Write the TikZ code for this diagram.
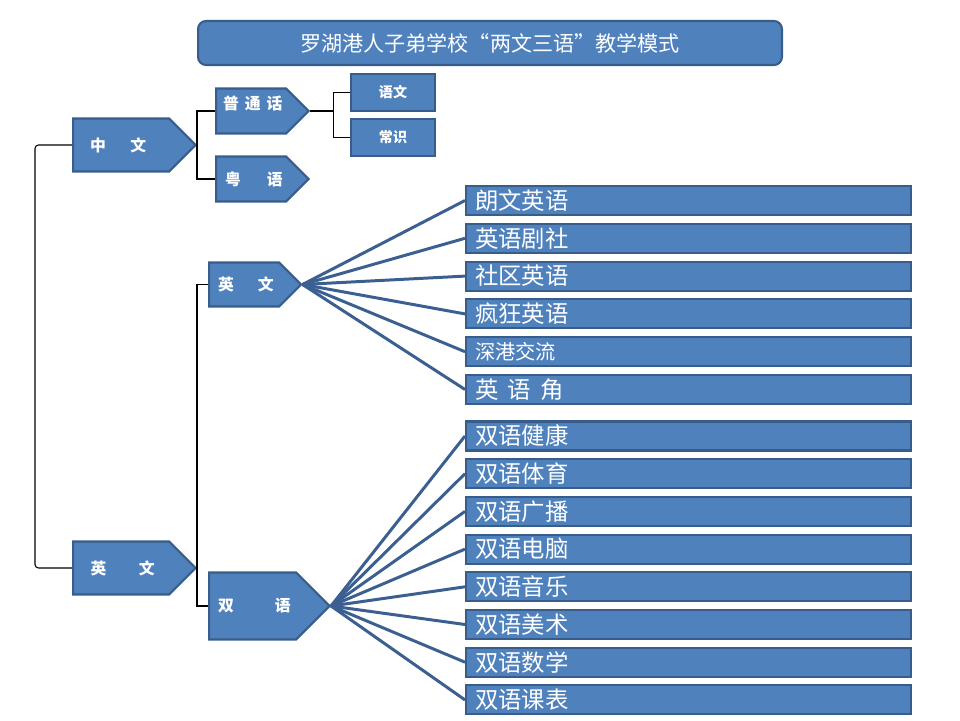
\documentclass[tikz,border=0pt]{standalone}
\usepackage{fontspec}
\setmainfont{Noto Sans CJK SC}
\usetikzlibrary{shapes.symbols}
\definecolor{boxblue}{HTML}{4F81BD}
\definecolor{boxedge}{HTML}{385D8A}
\definecolor{spokeblue}{HTML}{3C5F91}
\tikzset{
  tag/.style 2 args={signal, signal to=east, signal pointer angle=90,
    fill=boxblue, draw=boxedge, line width=1.2pt, text=white,
    font=\bfseries\fontsize{9}{9}\selectfont, inner xsep=0pt, inner ysep=0pt,
    text width=#1, minimum height=#2, align=left, anchor=west},
  subject/.style={rectangle, fill=boxblue, draw=boxedge, line width=1.2pt,
    text=white, font=\bfseries\fontsize{8}{8}\selectfont,
    minimum width=16.8mm, minimum height=7.4mm},
  bar/.style={rectangle, fill=boxblue, draw=boxedge, line width=1.2pt,
    text=white, font=\fontsize{13.3}{14}\selectfont, inner xsep=1.8mm,
    inner ysep=0pt, text width=85.4mm, minimum height=5.8mm, align=left,
    anchor=west},
  spoke/.style={spokeblue, line width=1.7pt},
  bracket/.style={black, line width=0.6pt}
}
\begin{document}
\begin{tikzpicture}[x=0.02cm, y=-0.02cm]
\useasboundingbox (0,0) rectangle (960,720);
% title
\node[rectangle, rounded corners=1.6mm, fill=boxblue, draw=boxedge, line width=1.2pt,
  text=white, font=\fontsize{12}{12}\selectfont, minimum width=116.8mm,
  minimum height=8.8mm] (title) at (490,43) {罗湖港人子弟学校“两文三语”教学模式};
% left column
\node[tag={19.2mm}{10.6mm}] (zhong) at (72,145) {\hspace*{3.4mm}中\hspace{4.9mm}文};
\node[tag={19.2mm}{10.6mm}] (yingL) at (72,568) {\hspace*{3.5mm}英\hspace{6.5mm}文};
% chinese branch
\node[tag={14mm}{9mm}, text height=2.8mm, text depth=3.6mm] (putong) at (215,111)
  {\hspace*{1.4mm}普\hspace{1.2mm}通\hspace{1.2mm}话};
\node[tag={14mm}{9mm}] (yue) at (215,179) {\hspace*{1.8mm}粤\hspace{5.2mm}语};
\node[subject] (yuwen) at (393,92.5) {语文};
\node[subject] (changshi) at (393,137.5) {常识};
% english branch
\node[tag={14mm}{8.8mm}] (yingU) at (208,284.5) {\hspace*{1.8mm}英\hspace{4.8mm}文};
\node[tag={17.4mm}{13.4mm}] (shuang) at (208,606) {\hspace*{1.8mm}双\hspace{8.2mm}语};
% activity bars
\foreach \t [count=\i] in {朗文英语,英语剧社,社区英语,疯狂英语,
    {\fontsize{11.5}{12}\selectfont 深港交流},英\hspace{0.4em}语\hspace{0.4em}角}
  \node[bar] (e\i) at (465,{200.5+37.8*(\i-1)}) {\t};
\foreach \t [count=\i] in {双语健康,双语体育,双语广播,双语电脑,双语音乐,双语美术,双语数学,双语课表}
  \node[bar] (s\i) at (465,{436+37.7*(\i-1)}) {\t};
% connectors
\draw[bracket, rounded corners=2pt] (zhong.west) -- ++(-37,0) |- (yingL.west);
\draw[bracket] (putong.west) -| (zhong.east) |- (yue.west);
\draw[bracket] (yingU.west) -| (yingL.east) |- (shuang.west);
\draw[bracket] (putong.east) -- ++(23,0) coordinate (pj);
\draw[bracket] (yuwen.west) -| (pj) |- (changshi.west);
\foreach \i in {1,...,6}
  \draw[spoke] (yingU.east) -- (e\i.west);
\foreach \i in {1,...,8}
  \draw[spoke] (shuang.east) -- (s\i.west);
\end{tikzpicture}
\end{document}
